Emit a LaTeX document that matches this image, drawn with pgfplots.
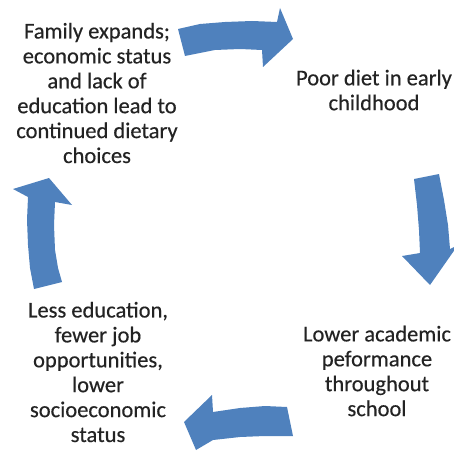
\documentclass[border=0pt]{standalone}
\usepackage{pgfplots}
\pgfplotsset{compat=1.18}
\usepackage{fontspec}
\setmainfont[FakeBold=0.4]{Carlito}
\definecolor{arrowblue}{RGB}{79,129,189}
\definecolor{txt}{RGB}{35,35,35}
\begin{document}
\begin{tikzpicture}
\begin{axis}[
  scale only axis, width=454bp, height=452bp,
  xmin=0, xmax=454, ymin=0, ymax=452, y dir=reverse,
  hide axis, clip=false,
]
% top arrow (pointing right)
\addplot[fill=arrowblue, draw=none] coordinates {
 (178,29) (200,24) (225,22) (252,21) (277,22) (280,8) (293,39) (263,67)
 (262,50) (240,49) (215,50) (185,56)} --cycle;
% right arrow (pointing down)
\addplot[fill=arrowblue, draw=none] coordinates {
 (414,179) (439,174) (444,200) (448,225) (450,249) (458,245) (430,285)
 (402,256) (420,253) (419,230) (417,205)} --cycle;
% bottom arrow (pointing left)
\addplot[fill=arrowblue, draw=none] coordinates {
 (287,407) (293,436) (265,436) (240,437) (213,440) (196,450) (184,422)
 (212,395) (213,412) (240,408) (265,406)} --cycle;
% left arrow (pointing up)
\addplot[fill=arrowblue, draw=none] coordinates {
 (49,178) (72,205) (55,202) (54,225) (55,250) (58,268) (62,282) (34,289)
 (30,268) (28,245) (27,220) (28,197) (13,189)} --cycle;
\tikzset{lbl/.style={align=center, text=txt, font=\fontsize{22.6}{25}\selectfont, inner sep=0pt}}
\node[lbl] at (axis cs:97,93) {Family expands;\\economic status\\and lack of\\education lead to\\continued dietary\\choices};
\node[lbl] at (axis cs:374,90) {Poor diet in early\\childhood};
\node[lbl] at (axis cs:377,371) {Lower academic\\peformance\\throughout\\school};
\node[lbl] at (axis cs:98,372) {Less education,\\fewer job\\opportunities,\\lower\\socioeconomic\\status};
\end{axis}
\pgfresetboundingbox
\useasboundingbox (current axis.south west) rectangle (current axis.north east);
\end{tikzpicture}
\end{document}
